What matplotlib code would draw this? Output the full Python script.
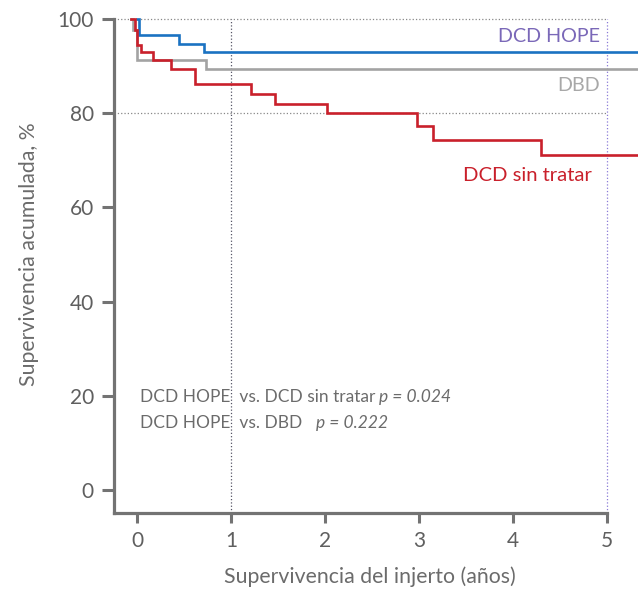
import matplotlib.pyplot as plt

plt.rcParams['font.family'] = ['Lato', 'DejaVu Sans']

# Kaplan-Meier curves (time in years, survival %)
hope_t = [0.0, 0.025, 0.45, 0.71]
hope_s = [100, 96.6, 94.8, 92.9]
dbd_t = [-0.06, -0.04, 0.0, 0.73]
dbd_s = [100, 97.7, 91.2, 89.3]
sin_t = [-0.06, -0.025, 0.003, 0.046, 0.17, 0.365, 0.62, 1.21, 1.47, 2.02, 2.98, 3.15, 4.30]
sin_s = [100, 97.7, 94.5, 93.1, 91.2, 89.3, 86.1, 84.0, 81.9, 80.0, 77.3, 74.3, 71.2]
t_end = 5.4

xticks = [0, 1, 2, 3, 4, 5]
yticks = [0, 20, 40, 60, 80, 100]

axis_col = '#737373'
text_col = '#6b6b6b'
blue = '#1a72c2'
red = '#c9202b'
grey = '#a3a3a3'

fig = plt.figure(figsize=(6.38, 5.89), dpi=100)
ax = fig.add_axes([0.1787, 0.129, 0.8213, 0.8467])
ax.set_xlim(-0.245, 5.33)
ax.set_ylim(-4.9, 101)

# reference dotted lines
ax.plot([-0.245, 5], [100, 100], ls=':', lw=0.9, color='#888888', zorder=1)
ax.plot([-0.245, 5], [80, 80], ls=':', lw=0.9, color='#888888', zorder=1)
ax.plot([1, 1], [-4.9, 100], ls=':', lw=0.9, color='#555566', zorder=1)
ax.plot([5, 5], [-4.9, 100], ls=':', lw=0.9, color='#8a7ad6', zorder=1)

def km(t, s):
    return list(t) + [t_end], list(s) + [s[-1]]

x, y = km(dbd_t, dbd_s)
ax.step(x, y, where='post', color=grey, lw=1.9, zorder=3, solid_joinstyle='miter')
x, y = km(hope_t, hope_s)
ax.step(x, y, where='post', color=blue, lw=1.9, zorder=4, solid_joinstyle='miter')
x, y = km(sin_t, sin_s)
ax.step(x, y, where='post', color=red, lw=1.9, zorder=5, solid_joinstyle='miter')

ax.text(4.93, 96.2, 'DCD HOPE', color='#7a68b8', fontsize=14.2, ha='right', va='center')
ax.text(4.93, 85.8, 'DBD', color='#a8a8a8', fontsize=14.2, ha='right', va='center')
ax.text(4.84, 66.8, 'DCD sin tratar', color=red, fontsize=14.6, ha='right', va='center')

t1 = ax.text(0.03, 19.7, 'DCD HOPE  vs. DCD sin tratar', color=text_col, fontsize=12.5, va='center')
ax.annotate('p = 0.024', xy=(1, 0.5), xycoords=t1, xytext=(3, 0), textcoords='offset points',
            color=text_col, fontsize=12.5, va='center', style='italic')
t2 = ax.text(0.03, 14.2, 'DCD HOPE  vs. DBD', color=text_col, fontsize=12.5, va='center')
ax.annotate('p = 0.222', xy=(1, 0.5), xycoords=t2, xytext=(10, 0), textcoords='offset points',
            color=text_col, fontsize=12.5, va='center', style='italic')

for side in ['top', 'right']:
    ax.spines[side].set_visible(False)
ax.spines['left'].set_bounds(-4.9, 100)
ax.spines['bottom'].set_bounds(-0.245, 5)
for side in ['left', 'bottom']:
    ax.spines[side].set_linewidth(2.3)
    ax.spines[side].set_color(axis_col)

ax.set_xticks(xticks)
ax.set_yticks(yticks)
ax.tick_params(axis='y', direction='out', length=8.5, width=2.2, color=axis_col,
               labelcolor='#5f5f5f', labelsize=15, pad=6)
ax.tick_params(axis='x', direction='out', length=7, width=2.2, color=axis_col,
               labelcolor='#5f5f5f', labelsize=15, pad=6)

ax.set_xlabel('Supervivencia del injerto (años)', color=text_col, fontsize=15.3)
ax.xaxis.set_label_coords(0.489, -0.108)
ax.set_ylabel('Supervivencia acumulada, %', color=text_col, fontsize=15.3)
ax.yaxis.set_label_coords(-0.143, 0.52)

fig.savefig('out.png', dpi=100)
